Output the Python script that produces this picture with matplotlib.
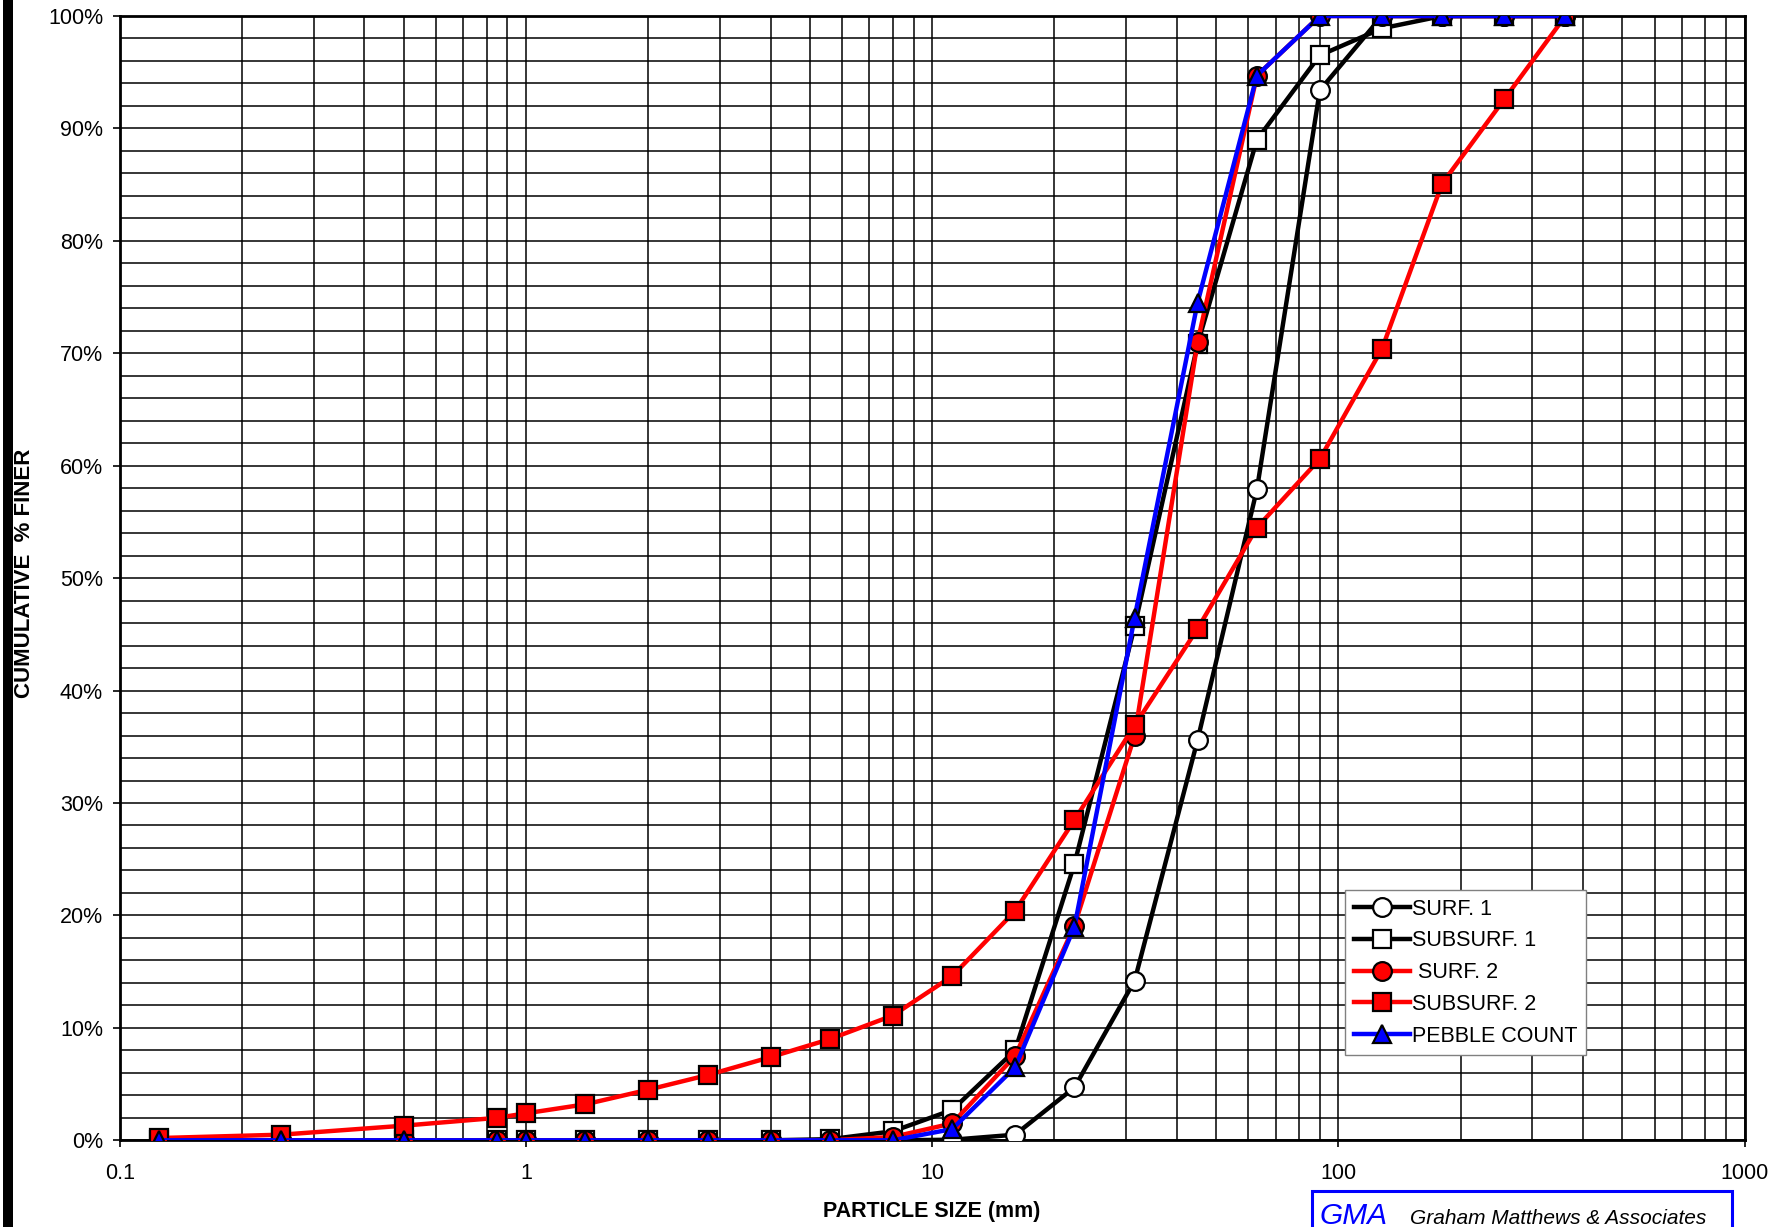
import matplotlib.pyplot as plt
from matplotlib.ticker import MultipleLocator, LogLocator, FuncFormatter, NullFormatter
from matplotlib.patches import Rectangle

plt.rcParams['font.family'] = ['Liberation Sans', 'DejaVu Sans']

# sieve sizes (mm)
sizes = [0.125, 0.25, 0.5, 0.85, 1, 1.4, 2, 2.8, 4, 5.6, 8, 11.2,
         16, 22.4, 31.5, 45, 63, 90, 128, 180, 256, 362]

# cumulative % finer
surf1 = [0, 0, 0, 0, 0, 0, 0, 0, 0, 0, 0, 0.05,
         0.5, 4.7, 14.2, 35.6, 57.9, 93.4, 100, 100, 100, 100]
subsurf1 = [0, 0, 0, 0, 0, 0, 0, 0, 0, 0.1, 0.8, 2.7,
            8.0, 24.6, 45.7, 70.8, 89.0, 96.5, 98.9, 100, 100, 100]
surf2 = [0, 0, 0, 0, 0, 0, 0, 0, 0, 0, 0.3, 1.5,
         7.5, 19.1, 36.0, 71.0, 94.7, 100, 100, 100, 100, 100]
subsurf2 = [0.2, 0.5, 1.3, 2.0, 2.4, 3.2, 4.5, 5.8, 7.4, 9.0, 11.1, 14.6,
            20.4, 28.5, 36.9, 45.5, 54.5, 60.6, 70.4, 85.1, 92.6, 100]
pebble = [0, 0, 0, 0, 0, 0, 0, 0, 0, 0, 0, 1.0,
          6.5, 19.0, 46.5, 74.5, 94.7, 100, 100, 100, 100, 100]

series = [
    ('SURF. 1', surf1, 'black', 'o', 'white'),
    ('SUBSURF. 1', subsurf1, 'black', 's', 'white'),
    (' SURF. 2', surf2, 'red', 'o', 'red'),
    ('SUBSURF. 2', subsurf2, 'red', 's', 'red'),
    ('PEBBLE COUNT', pebble, 'blue', '^', 'blue'),
]

W, H = 1788, 1227
fig = plt.figure(figsize=(W / 100, H / 100), dpi=100)
ax = fig.add_axes([119.7 / W, 1 - 1140.3 / H, (1744.7 - 119.7) / W, (1140.3 - 16) / H])

for name, vals, col, mk, fc in series:
    ax.plot(sizes, vals, color=col, lw=3.2, marker=mk, markersize=13.5,
            markerfacecolor=fc, markeredgecolor='black', markeredgewidth=1.6,
            label=name, zorder=3)

ax.set_xscale('log')
ax.set_xlim(0.1, 1000)
ax.set_ylim(0, 100)

ax.set_xticks([0.1, 1, 10, 100, 1000])
ax.set_xticklabels(['0.1', '1', '10', '100', '1000'])
ax.xaxis.set_minor_locator(LogLocator(base=10, subs=range(2, 10)))
ax.xaxis.set_minor_formatter(NullFormatter())
ax.yaxis.set_major_locator(MultipleLocator(10))
ax.yaxis.set_minor_locator(MultipleLocator(2))
ax.yaxis.set_major_formatter(FuncFormatter(lambda v, p: '%d%%' % v))

ax.grid(which='both', color='black', lw=1.1)
ax.set_axisbelow(True)
ax.tick_params(which='major', direction='out', length=5, width=1.2,
               labelsize=15.5, color='black')
ax.tick_params(axis='y', pad=7)
ax.tick_params(axis='x', pad=11)
ax.tick_params(which='minor', length=0)
for s in ax.spines.values():
    s.set_linewidth(2)
    s.set_color('black')

fig.text(25 / W, 1 - 573 / H, 'CUMULATIVE  % FINER', rotation=90,
         ha='center', va='center', fontsize=16, fontweight='bold')
fig.text(932 / W, 1 - 1211 / H, 'PARTICLE SIZE (mm)',
         ha='center', va='center', fontsize=15.5, fontweight='bold')

leg = ax.legend(loc='lower left', bbox_to_anchor=(0.754, 0.0756), fontsize=15.5,
                fancybox=False, framealpha=1, edgecolor='gray', handlelength=2.6,
                handletextpad=0.1, borderpad=0.4, labelspacing=0.5,
                borderaxespad=0)
leg.get_frame().set_linewidth(1)

# page border bar on the left
fig.add_artist(Rectangle((3 / W, 0), 10 / W, 1, transform=fig.transFigure,
                         color='black', lw=0))

# company box
fig.add_artist(Rectangle((1312 / W, -0.01), (1732 - 1312) / W, 0.01 + (1227 - 1191) / H,
                         transform=fig.transFigure, fill=False,
                         edgecolor='blue', lw=2.2))
fig.text(1320 / W, 2.5 / H, 'GMA', color='blue', fontsize=21.5,
         style='italic', va='baseline')
fig.text(1410 / W, 2.5 / H, 'Graham Matthews & Associates', color='black',
         fontsize=15, style='italic', va='baseline')

fig.savefig('out.png', dpi=100)
